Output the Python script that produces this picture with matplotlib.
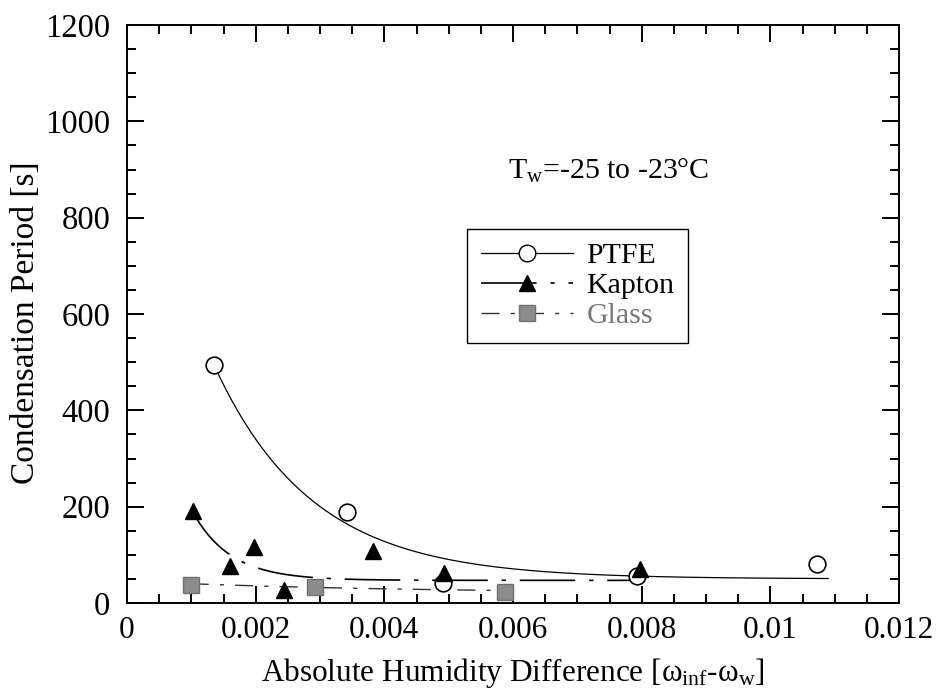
import numpy as np
import matplotlib
matplotlib.use("Agg")
import matplotlib.pyplot as plt
from matplotlib.lines import Line2D

plt.rcParams['font.family'] = ['Liberation Serif', 'DejaVu Serif']
plt.rcParams['mathtext.fontset'] = 'custom'
plt.rcParams['mathtext.rm'] = 'Liberation Serif'
plt.rcParams['mathtext.it'] = 'Liberation Serif:italic'
plt.rcParams['mathtext.default'] = 'regular'
plt.rcParams['lines.scale_dashes'] = False

ptfe_x = [0.00135, 0.00342, 0.00491, 0.00793, 0.01072]
ptfe_y = [495, 189, 42, 56, 81]

kapton_x = [0.00103, 0.00160, 0.00198, 0.00244, 0.00383, 0.00492, 0.00797]
kapton_y = [190, 77, 116, 27, 108, 62, 70]

glass_x = [0.00099, 0.00292, 0.00587]
glass_y = [38, 33, 23]

# exponential trend lines: y = base + amp * exp(-(x - x0) / tau)
ptfe_fit = dict(base=50, amp=445, x0=0.00135, tau=0.00152, x_end=0.0109)
kapton_fit = dict(base=47, amp=140, x0=0.00103, tau=0.00059, x_end=0.0080)
glass_fit = dict(base=20, amp=20, x0=0.00099, tau=0.0040, x_end=0.0059)


def trend(p):
    xs = np.linspace(p['x0'], p['x_end'], 200)
    return xs, p['base'] + p['amp'] * np.exp(-(xs - p['x0']) / p['tau'])


fig = plt.figure(figsize=(9.38, 6.92), dpi=100)
ax = fig.add_axes([127 / 938, 89 / 692, 772 / 938, 578 / 692])

kap_dash = (40, 10, 3, 10)
gl_dash = (13, 8, 3, 8)
gray = '#8c8c8c'

x, y = trend(ptfe_fit)
ax.plot(x, y, color='black', lw=0.9)
x, y = trend(kapton_fit)
ax.plot(x, y, color='black', lw=1.2, dashes=kap_dash)
x, y = trend(glass_fit)
ax.plot(x, y, color='#333333', lw=1.0, dashes=gl_dash)

ax.plot(ptfe_x, ptfe_y, 'o', ms=12, mfc='white', mec='black', mew=1.2, ls='none')
ax.plot(kapton_x, kapton_y, '^', ms=12, mfc='black', mec='black', ls='none')
ax.plot(glass_x, glass_y, 's', ms=11, mfc=gray, mec='#707070', ls='none')

ax.set_xlim(0, 0.012)
ax.set_ylim(0, 1200)
ax.set_xticks(np.arange(0, 0.0121, 0.002))
ax.set_xticklabels(['0', '0.002', '0.004', '0.006', '0.008', '0.01', '0.012'])
ax.set_xticks(np.arange(0, 0.0121, 0.0005), minor=True)
ax.set_yticks(np.arange(0, 1201, 200))
ax.set_yticks(np.arange(0, 1201, 50), minor=True)
ax.tick_params(which='both', direction='in', top=True, right=True, width=1.4)
ax.tick_params(which='major', length=12)
ax.tick_params(which='minor', length=6.5)
ax.tick_params(axis='x', labelsize=22.5, pad=9)
ax.tick_params(axis='y', labelsize=23.5, pad=12)
for s in ax.spines.values():
    s.set_linewidth(1.4)

ax.set_xlabel('Absolute Humidity Difference [ω$_{inf}$-ω$_{w}$]', fontsize=22.5, labelpad=8)
ax.set_ylabel('Condensation Period [s]', fontsize=24)
ax.yaxis.set_label_coords(-0.112, 0.485)

ax.text(0.00593, 880, 'T$_{w}$=-25 to -23°C', fontsize=21.5, va='baseline')

handles = [
    Line2D([], [], color='black', lw=0.9, marker='o', ms=12, mfc='white', mec='black'),
    Line2D([], [], color='black', lw=1.2, dashes=kap_dash, marker='^', ms=12, mfc='black', mec='black'),
    Line2D([], [], color='#333333', lw=1.0, dashes=gl_dash, marker='s', ms=11, mfc=gray, mec='#707070'),
]
leg = ax.legend(handles, ['PTFE', 'Kapton', 'Glass'], loc='upper left',
                bbox_to_anchor=(0.441, 0.647), borderaxespad=0, fontsize=21.5,
                frameon=True, fancybox=False, edgecolor='black', framealpha=1,
                handlelength=3.1, handletextpad=0.43, labelspacing=0.1,
                borderpad=0.45, numpoints=1)
leg.get_frame().set_linewidth(1.0)
leg.get_texts()[2].set_color('#777777')

fig.savefig('out.png', dpi=100)
